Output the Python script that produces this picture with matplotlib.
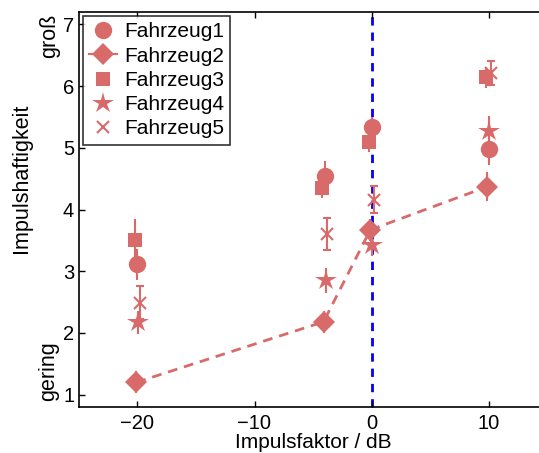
import matplotlib
matplotlib.use("Agg")
import matplotlib.pyplot as plt
from matplotlib.lines import Line2D
import numpy as np

plt.rcParams['font.family'] = ['Liberation Sans', 'DejaVu Sans']

impulsfaktor = [-20, -4, 0, 10]
series_names = ['Fahrzeug1', 'Fahrzeug2', 'Fahrzeug3', 'Fahrzeug4', 'Fahrzeug5']
fahrzeug1 = [3.11, 4.55, 5.33, 4.98]
fahrzeug2 = [1.20, 2.18, 3.67, 4.37]
fahrzeug3 = [3.50, 4.35, 5.09, 6.14]
fahrzeug4 = [2.17, 2.85, 3.43, 5.28]
fahrzeug5 = [2.49, 3.60, 4.16, 6.21]
err1 = [0.25, 0.23, 0.17, 0.26]
err2 = [0.18, 0.18, 0.18, 0.23]
err3 = [0.35, 0.17, 0.16, 0.17]
err4 = [0.18, 0.20, 0.18, 0.24]
err5 = [0.27, 0.26, 0.22, 0.20]
x_offsets = [0.0, -0.1, -0.25, 0.08, 0.22]

values = [fahrzeug1, fahrzeug2, fahrzeug3, fahrzeug4, fahrzeug5]
errors = [err1, err2, err3, err4, err5]
markers = ['o', 'D', 's', '*', 'x']
msizes = [12.5, 11.5, 9.5, 16, 8]

color = '#d96a6a'
fig = plt.figure(figsize=(5.39, 4.53), dpi=100)
ax = fig.add_axes([79/539, 1-407/453, (547-79)/539, (407-12)/453])

ax.axvline(0, color='#0000ff', lw=2, ls=(0, (3, 2.5)), zorder=1)

for i in range(5):
    xs = np.array(impulsfaktor) + x_offsets[i]
    ax.errorbar(xs, values[i], yerr=errors[i], fmt=markers[i], ms=msizes[i],
                color=color, ecolor=color, elinewidth=1.5, capsize=3.2, capthick=1.5,
                mew=1.5 if markers[i] == 'x' else 0, zorder=3)
    if i == 1:
        ax.plot(xs, values[i], ls=(0, (3.5, 2.5)), lw=2, color=color, zorder=2)

ax.set_xlim(-25, 15)
ax.set_ylim(0.8, 7.2)
ax.set_xticks([-20, -10, 0, 10])
ax.set_yticks([1, 2, 3, 4, 5, 6, 7])
ax.tick_params(direction='in', labelsize=14.5, top=True, right=True, length=4, width=1)
ax.tick_params(axis='x', pad=5)
for s in ax.spines.values():
    s.set_linewidth(1.2)
fig.text(313/539, 1-448/453, 'Impulsfaktor / dB', fontsize=15, ha='center', va='baseline')
fig.text(22/539, 1-178/453, 'Impulshaftigkeit', rotation=90,
         fontsize=15.5, ha='center', va='center')
fig.text(50/539, 1-36/453, 'groß', rotation=90, fontsize=15.5,
         ha='center', va='center')
fig.text(49/539, 1-371/453, 'gering', rotation=90, fontsize=15.5,
         ha='center', va='center')

handles = []
for i in range(5):
    handles.append(Line2D([], [], marker=markers[i], ms=msizes[i], color=color,
                          ls='-' if i == 1 else 'none', lw=1.5,
                          mew=1.5 if markers[i] == 'x' else 0))
leg = ax.legend(handles, series_names, loc='upper left', fontsize=15, frameon=True,
                fancybox=False, edgecolor='black', borderaxespad=0.2,
                handlelength=1.3, handletextpad=0.35, borderpad=0.3, labelspacing=0.25)
leg.get_frame().set_linewidth(1.2)

fig.savefig('out.png', dpi=100)
